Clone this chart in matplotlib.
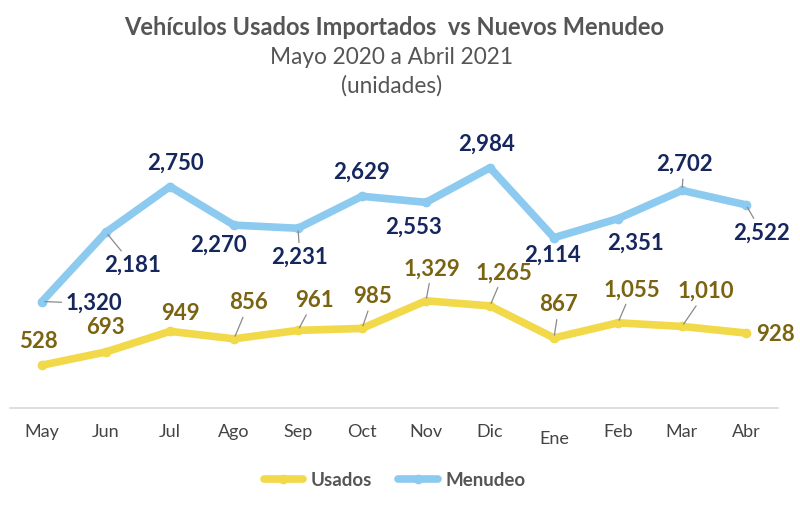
import matplotlib.pyplot as plt
import numpy as np

meses = ["May", "Jun", "Jul", "Ago", "Sep", "Oct", "Nov", "Dic", "Ene", "Feb", "Mar", "Abr"]
usados = [528, 693, 949, 856, 961, 985, 1329, 1265, 867, 1055, 1010, 928]
menudeo = [1320, 2181, 2750, 2270, 2231, 2629, 2553, 2984, 2114, 2351, 2702, 2522]

# label offsets in pixels (dx, dy) and whether a leader line is drawn
off_menudeo = [(52, -2), (27, -33), (5, 23), (-16, -20), (2, -29), (0, 24),
               (-12, -25), (-3, 24), (-1, -18), (18, -25), (2, 26), (16, -28)]
lead_menudeo = [True, True, False, False, True, False, False, False, False, False, True, True]
off_usados = [(-4, 24), (-1, 24), (10, 18), (15, 36), (16, 30), (11, 32),
              (6, 32), (14, 33), (5, 33), (14, 33), (24, 35), (30, -1)]
lead_usados = [False, False, False, True, True, True, True, True, True, True, True, False]

c_azul = "#8DCAEF"
c_amar = "#F1D94A"
c_navy = "#16275E"
c_olivo = "#7A6311"
c_gris = "#555555"

plt.rcParams['font.family'] = ['Lato', 'DejaVu Sans']

fig = plt.figure(figsize=(8, 5.07), dpi=100)
ax = fig.add_axes([0.0125, 0.196, 0.96, 0.555])
x = np.arange(len(meses))

ax.plot(x, usados, color=c_amar, lw=5.5, marker="o", ms=6, solid_capstyle="round",
        label="Usados", zorder=3)
ax.plot(x, menudeo, color=c_azul, lw=5.5, marker="o", ms=6, solid_capstyle="round",
        label="Menudeo", zorder=3)

def etiquetas(vals, offs, leads, color):
    for i, v in enumerate(vals):
        props = None
        if leads[i]:
            props = dict(arrowstyle="-", color="#8a8a8a", lw=0.9, shrinkA=1, shrinkB=2)
        ax.annotate(f"{v:,}", (i, v), xytext=offs[i], textcoords="offset pixels",
                    ha="center", va="center", fontsize=16, fontweight="bold",
                    color=color, arrowprops=props, zorder=4)

etiquetas(menudeo, off_menudeo, lead_menudeo, c_navy)
etiquetas(usados, off_usados, lead_usados, c_olivo)

ax.set_xlim(-0.5, 11.5)
ax.set_ylim(0, 3500)
ax.set_yticks([])
ax.set_xticks(x)
ax.set_xticklabels(meses, fontsize=13, color="#444444")
ax.tick_params(axis="x", length=0, pad=12)
ax.get_xticklabels()[8].set_y(-0.025)
for s in ["top", "right", "left"]:
    ax.spines[s].set_visible(False)
ax.spines["bottom"].set_color("#d9d9d9")
ax.spines["bottom"].set_linewidth(1.2)

fig.text(0.493, 0.945, "Vehículos Usados Importados  vs Nuevos Menudeo", ha="center",
         va="center", fontsize=17, fontweight="bold", color=c_gris)
fig.text(0.49, 0.887, "Mayo 2020 a Abril 2021", ha="center", va="center",
         fontsize=16.3, color=c_gris)
fig.text(0.49, 0.830, "(unidades)", ha="center", va="center", fontsize=16.3, color=c_gris)

leg = fig.legend(loc="center", bbox_to_anchor=(0.493, 0.053), ncol=2, frameon=False,
                 fontsize=13.5, handlelength=2.1, columnspacing=1.4, handletextpad=0.4)
for t in leg.get_texts():
    t.set_fontweight("bold")
    t.set_color(c_gris)

fig.savefig("out.png", dpi=100, facecolor="white")
